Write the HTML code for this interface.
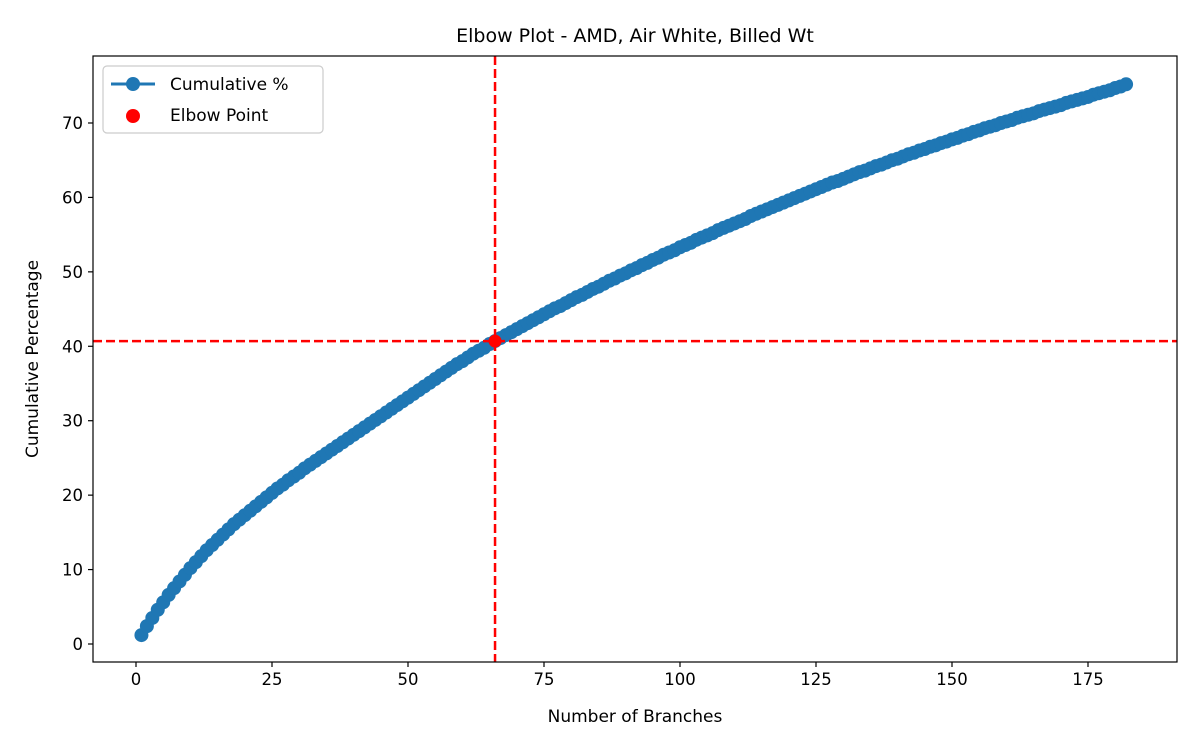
<!DOCTYPE html>
<html><head><meta charset="utf-8"><style>
body{margin:0;background:#fff;}
svg{display:block;font-family:"DejaVu Sans","Liberation Sans",sans-serif;}
</style></head><body>
<svg id="chart" width="1200" height="750"></svg>
<script>
const xTicks=[0,25,50,75,100,125,150,175];
const yTicks=[0,10,20,30,40,50,60,70];
const cumulative=[1.2,2.4,3.5,4.6,5.6,6.6,7.5,8.4,9.3,10.2,
11.0,11.8,12.6,13.3,14.0,14.7,15.4,16.1,16.7,17.3,17.9,18.5,19.1,19.7,20.3,
20.9,21.4,22.0,22.5,23.0,23.6,24.1,24.6,25.1,25.6,26.1,26.6,27.1,27.6,28.1,28.6,29.1,29.6,30.1,30.6,31.1,31.6,32.1,32.6,33.1,
33.6,34.1,34.6,35.1,35.6,36.1,36.6,37.1,37.6,38.0,38.5,39.0,39.4,39.8,40.3,40.7,
41.1,41.5,41.9,42.3,42.7,43.1,43.5,43.9,44.3,
44.7,45.1,45.4,45.8,46.2,46.6,46.9,47.3,47.7,48.0,48.4,48.8,49.1,49.5,49.8,50.2,50.5,50.9,51.2,51.6,51.9,52.3,52.6,52.9,53.3,
53.6,53.9,54.3,54.6,54.9,55.2,55.6,55.9,56.2,56.5,56.8,57.1,57.5,57.8,58.1,58.4,58.7,59.0,59.3,59.6,59.9,60.2,60.5,60.8,61.1,
61.4,61.7,62.0,62.2,62.5,62.8,63.1,63.4,63.6,63.9,64.2,64.4,64.7,65.0,65.2,65.5,65.8,66.0,66.3,66.5,66.8,67.0,67.3,67.5,67.8,
68.0,68.3,68.5,68.8,69.0,69.3,69.5,69.7,70.0,70.2,70.4,70.7,70.9,71.1,71.3,71.6,71.8,72.0,72.2,72.4,72.7,72.9,73.1,73.3,73.5,
73.8,74.0,74.2,74.4,74.7,74.9,75.2];
const elbowX=66;
const elbowY=40.7;

const NS="http://www.w3.org/2000/svg";
const svg=document.getElementById('chart');
const L=93,R=1177,T=56,B=662;
const sx=v=>136+v*5.44;
const sy=v=>644-v*7.443;
function mk(tag,attrs,parent){const e=document.createElementNS(NS,tag);for(const k in attrs)e.setAttribute(k,attrs[k]);(parent||svg).appendChild(e);return e;}

const title=mk('text',{x:635,y:42,'text-anchor':'middle','font-size':19,fill:'#000'});
title.textContent='Elbow Plot - AMD, Air White, Billed Wt';



const clip=mk('clipPath',{id:'pc'});mk('rect',{x:L,y:T,width:R-L,height:B-T},clip);
const g=mk('g',{'clip-path':'url(#pc)'});



let d='';cumulative.forEach((v,i)=>{d+=(i?'L':'M')+sx(i+1)+' '+sy(v);});
const line=mk('path',{d:d,fill:'none',stroke:'#1f77b4','stroke-width':3},g);


cumulative.forEach((v,i)=>{
  const c=mk('circle',{cx:sx(i+1),cy:sy(v),r:7,fill:'#1f77b4'},g);
  
  
});
const vl=mk('line',{x1:sx(elbowX),x2:sx(elbowX),y1:T,y2:B,stroke:'#ff0000','stroke-width':2.5,'stroke-dasharray':'9,4'},g);


const hl=mk('line',{x1:L,x2:R,y1:sy(elbowY),y2:sy(elbowY),stroke:'#ff0000','stroke-width':2.5,'stroke-dasharray':'9,4'},g);


const ep=mk('circle',{cx:sx(elbowX),cy:sy(elbowY),r:6.5,fill:'#ff0000'},g);



const frame=mk('rect',{x:L,y:T,width:R-L,height:B-T,fill:'none',stroke:'#000','stroke-width':1.2});



xTicks.forEach(t=>{
  mk('line',{x1:sx(t),x2:sx(t),y1:B,y2:B+5,stroke:'#000','stroke-width':1.2});
  const tx=mk('text',{x:sx(t),y:B+23,'text-anchor':'middle','font-size':16.5,fill:'#000'});
  tx.textContent=t;
  
  
});
yTicks.forEach(t=>{
  mk('line',{x1:L-5,x2:L,y1:sy(t),y2:sy(t),stroke:'#000','stroke-width':1.2});
  const tx=mk('text',{x:L-10,y:sy(t)+6,'text-anchor':'end','font-size':16.5,fill:'#000'});
  tx.textContent=t;
  
  
});
const xl=mk('text',{x:635,y:722,'text-anchor':'middle','font-size':17,fill:'#000'});
xl.textContent='Number of Branches';


const yl=mk('text',{x:0,y:0,'text-anchor':'middle','font-size':17,fill:'#000',transform:'translate(38,359) rotate(-90)'});
yl.textContent='Cumulative Percentage';



const lg=mk('g',{});


mk('rect',{x:103,y:66,width:220,height:67,rx:4,fill:'#fff','fill-opacity':0.8,stroke:'#ccc','stroke-width':1.2},lg);
mk('line',{x1:111,x2:155,y1:84,y2:84,stroke:'#1f77b4','stroke-width':3},lg);
mk('circle',{cx:133,cy:84,r:7,fill:'#1f77b4'},lg);
mk('circle',{cx:133,cy:116,r:7,fill:'#ff0000'},lg);
const l1=mk('text',{x:170,y:90,'font-size':17,fill:'#000'},lg);l1.textContent='Cumulative %';


const l2=mk('text',{x:170,y:121,'font-size':17,fill:'#000'},lg);l2.textContent='Elbow Point';


</script>
</body></html>
